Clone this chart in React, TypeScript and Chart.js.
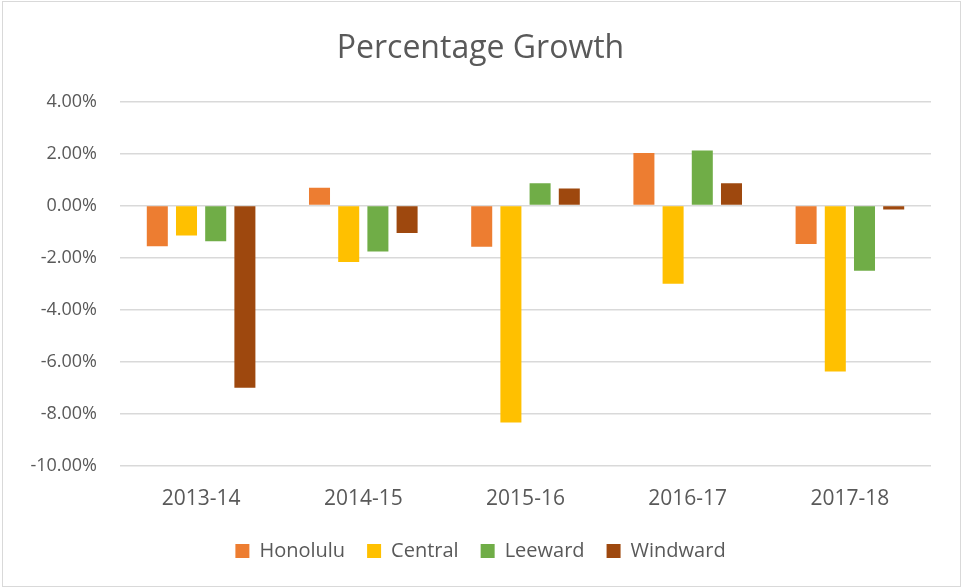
import React, { useEffect, useRef } from 'react';
import { Chart, registerables } from 'chart.js';

Chart.register(...registerables);

const categories = ['2013-14', '2014-15', '2015-16', '2016-17', '2017-18'];
const seriesNames = ['Honolulu', 'Central', 'Leeward', 'Windward'];
const honolulu = [-1.56, 0.68, -1.58, 2.02, -1.48];
const central = [-1.15, -2.17, -8.33, -3.0, -6.37];
const leeward = [-1.37, -1.76, 0.86, 2.11, -2.5];
const windward = [-7.0, -1.05, 0.66, 0.86, -0.15];
const seriesColors = ['#ED7D31', '#FFC000', '#70AD47', '#9E480E'];
const yMin = -10;
const yMax = 4;
const yStep = 2;

const TEXT = '#595959';
const FONT = "'Open Sans', 'DejaVu Sans', sans-serif";

export default function App() {
  const ref = useRef<HTMLCanvasElement>(null);
  useEffect(() => {
    const values = [honolulu, central, leeward, windward];
    const chart = new Chart(ref.current as HTMLCanvasElement, {
      type: 'bar',
      data: {
        labels: categories,
        datasets: seriesNames.map((name, i) => ({
          label: name,
          data: values[i],
          backgroundColor: seriesColors[i],
          borderWidth: 0,
          categoryPercentage: 0.72,
          barPercentage: 0.72,
        })),
      },
      options: {
        animation: false,
        responsive: false,
        maintainAspectRatio: false,
        layout: { padding: { left: 0, right: 2, top: 0, bottom: 17 } },
        plugins: {
          title: {
            display: true,
            text: 'Percentage Growth',
            color: TEXT,
            font: { family: FONT, size: 32, weight: 'normal' },
            padding: { top: 30, bottom: 33 },
          },
          legend: {
            position: 'bottom',
            labels: {
              boxWidth: 14,
              boxHeight: 14,
              padding: 22,
              color: TEXT,
              font: { family: FONT, size: 20 },
            },
          },
          tooltip: { enabled: false },
        },
        scales: {
          x: {
            grid: { display: false, drawTicks: false },
            border: { display: false },
            ticks: { color: TEXT, font: { family: FONT, size: 21 }, padding: 20 },
            afterFit: (s: any) => {
              s.height = 53;
            },
          },
          y: {
            min: yMin,
            max: yMax,
            ticks: {
              stepSize: yStep,
              color: TEXT,
              font: { family: FONT, size: 18 },
              padding: 23,
              callback: (v: any) => Number(v).toFixed(2) + '%',
            },
            grid: { color: '#d9d9d9', lineWidth: 1.5, drawTicks: false },
            border: { display: false },
            afterFit: (s: any) => {
              s.width = 120;
            },
          },
          yRight: {
            position: 'right',
            min: yMin,
            max: yMax,
            ticks: { display: false },
            grid: { display: false, drawTicks: false },
            border: { display: false },
            afterFit: (s: any) => {
              s.width = 30;
            },
          },
        },
      },
    });
    return () => chart.destroy();
  }, []);
  return (
    <div style={{ position: 'absolute', left: 0, top: 0, width: 963, height: 588, background: '#fff' }}>
      <canvas ref={ref} width={963} height={588} style={{ display: 'block', width: 963, height: 588 }} />
      <div
        style={{
          position: 'absolute',
          left: 2,
          top: 1,
          width: 959,
          height: 586,
          boxSizing: 'border-box',
          border: '1px solid #d9d9d9',
          pointerEvents: 'none',
        }}
      />
    </div>
  );
}
